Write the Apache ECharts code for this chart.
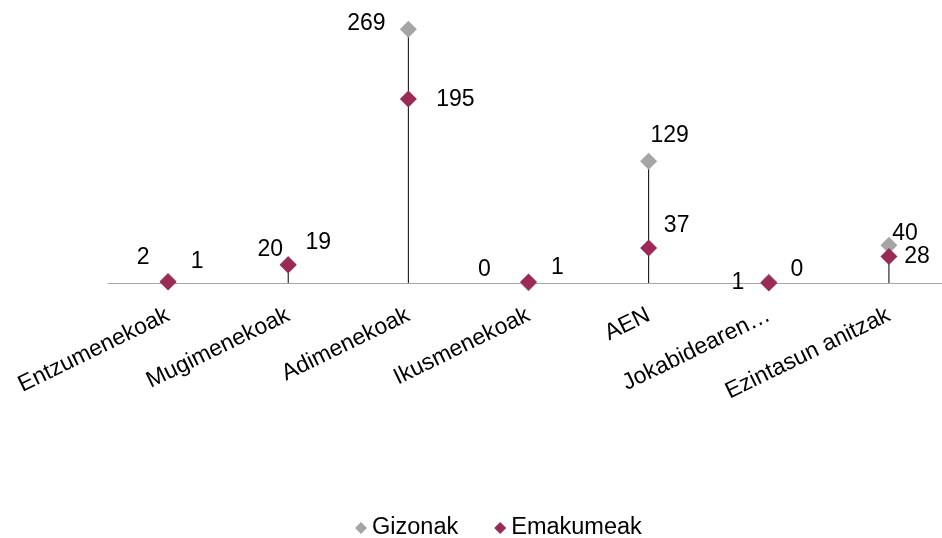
<!DOCTYPE html>
<html><head><meta charset="utf-8">
<script src="https://cdn.jsdelivr.net/npm/echarts@6/dist/echarts.min.js"></script>
<style>html,body{margin:0;padding:0;background:#fff;overflow:hidden}#c{width:952px;height:538px}</style>
</head><body><div id="c"></div>
<script>
const categories = ['Entzumenekoak','Mugimenekoak','Adimenekoak','Ikusmenekoak','AEN','Jokabidearen…','Ezintasun anitzak'];
const gizonak = [2, 20, 269, 0, 129, 1, 40];
const emakumeak = [1, 19, 195, 1, 37, 0, 28];
// label placement (style only)
const gOffsets = [[-25,-23],[-18,-14],[-42,-6],[-44,-13],[21,-26],[-31,1],[16,-12]];
const eOffsets = [[29,-20],[30,-22],[47,1],[29,-14],[28,-22],[28,-13],[28,0]];

const FONT = '"Liberation Sans", Arial, sans-serif';
const dropLine = categories.map((c,i)=>Math.max(gizonak[i], emakumeak[i]));

function pts(vals, offs){
  return vals.map((v,i)=>({value:v, label:{offset:offs[i]}}));
}

const chart = echarts.init(document.getElementById('c'));
chart.setOption({
  animation:false,
  textStyle:{fontFamily:FONT},
  grid:{left:108, width:841, top:0, height:283, containLabel:false},
  legend:{
    top:511, left:350, itemGap:36, itemWidth:12, itemHeight:12,
    data:[{name:'Gizonak',icon:'diamond'},{name:'Emakumeak',icon:'diamond'}],
    textStyle:{fontSize:23.5, color:'#000', fontFamily:FONT}
  },
  xAxis:{
    type:'category', data:categories,
    axisLine:{lineStyle:{color:'#a6a6a6', width:1}},
    axisTick:{show:false},
    axisLabel:{rotate:26, fontSize:23, color:'#000', margin:31, interval:0, fontFamily:FONT}
  },
  yAxis:{type:'value', min:0, max:300, show:false, splitLine:{show:false}},
  series:[
    {type:'bar', data:dropLine, barWidth:1, itemStyle:{color:'#000'}, z:1, silent:true, legendHoverLink:false},
    {name:'Gizonak', type:'scatter', data:pts(gizonak,gOffsets), symbol:'diamond', symbolSize:17,
      itemStyle:{color:'#a5a5a5', opacity:1}, z:3,
      label:{show:true, position:'inside', fontSize:23, color:'#000', fontFamily:FONT}},
    {name:'Emakumeak', type:'scatter', data:pts(emakumeak,eOffsets), symbol:'diamond', symbolSize:17,
      itemStyle:{color:'#9b2a56', opacity:1}, z:4,
      label:{show:true, position:'inside', fontSize:23, color:'#000', fontFamily:FONT}}
  ]
});
</script></body></html>
